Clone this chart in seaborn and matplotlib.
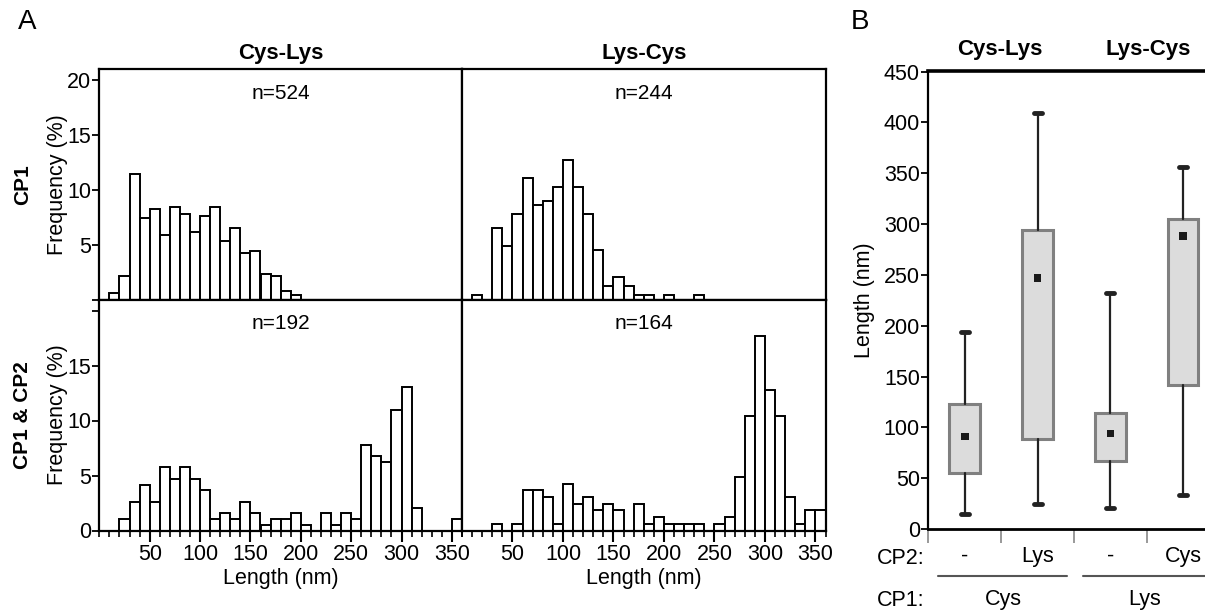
import numpy as np
import pandas as pd
import matplotlib.pyplot as plt
from matplotlib.lines import Line2D
import seaborn as sns

sns.set_style("ticks")
plt.rcParams['font.family'] = ['Liberation Sans', 'DejaVu Sans']
plt.rcParams.update({'text.color': 'black', 'axes.labelcolor': 'black',
                     'xtick.color': 'black', 'ytick.color': 'black'})

# ---- Panel A data: counts per 10 nm bin, 0-10 ... 350-360 nm ----
bin_starts = np.arange(0, 360, 10)

cys_lys_cp1 = [0, 3, 11, 60, 39, 43, 31, 44, 41, 32, 40, 44, 28, 34, 22, 23, 12, 11, 4, 2,
               0, 0, 0, 0, 0, 0, 0, 0, 0, 0, 0, 0, 0, 0, 0, 0]
lys_cys_cp1 = [0, 1, 0, 16, 12, 19, 27, 21, 22, 25, 31, 25, 19, 11, 3, 5, 3, 1, 1, 0,
               1, 0, 0, 1, 0, 0, 0, 0, 0, 0, 0, 0, 0, 0, 0, 0]
cys_lys_cp12 = [0, 0, 2, 5, 8, 5, 11, 9, 11, 9, 7, 2, 3, 2, 5, 3, 1, 2, 2, 3,
                1, 0, 3, 1, 3, 2, 15, 13, 12, 21, 25, 4, 0, 0, 0, 2]
lys_cys_cp12 = [0, 0, 0, 1, 0, 1, 6, 6, 5, 1, 7, 4, 5, 3, 4, 3, 0, 4, 1, 2,
                1, 1, 1, 1, 0, 1, 2, 8, 17, 29, 21, 17, 5, 1, 3, 3]
n_values = [524, 244, 192, 164]

col_titles = ['Cys-Lys', 'Lys-Cys']
row_titles = ['CP1', 'CP1 & CP2']

# ---- Panel B data: box summaries (nm) ----
cp2_labels = ['-', 'Lys', '-', 'Cys']
cp1_labels = ['Cys', 'Lys']
whisker_low = [15, 25, 21, 33]
box_q1 = [55, 89, 67, 142]
box_q3 = [123, 294, 114, 305]
whisker_high = [194, 409, 232, 356]
means = [91, 247, 94, 288]

W, H = 1205, 611
FS = 15.5
fig = plt.figure(figsize=(W / 100, H / 100), dpi=100)


def fx(x):
    return x / W


def fy(y):
    return 1 - y / H


# histogram grid (pixel boxes)
hist_boxes = [
    (99.3, 69, 462, 299.5), (462, 69, 825.5, 299.5),
    (99.3, 299.5, 462, 530.5), (462, 299.5, 825.5, 530.5),
]
hist_counts = [cys_lys_cp1, lys_cys_cp1, cys_lys_cp12, lys_cys_cp12]

for i, (x0, y0, x1, y1) in enumerate(hist_boxes):
    row, col = divmod(i, 2)
    ax = fig.add_axes([fx(x0), fy(y1), (x1 - x0) / W, (y1 - y0) / H])
    df = pd.DataFrame({'length': bin_starts + 5,
                       'pct': np.array(hist_counts[i]) / n_values[i] * 100})
    sns.histplot(data=df, x='length', weights='pct', binwidth=10, binrange=(0, 360), ax=ax,
                 color='white', edgecolor='black', linewidth=1.4, alpha=1)
    ax.set_xlim(0, 360)
    ax.set_ylim(0, 21)
    for s in ax.spines.values():
        s.set_visible(True)
        s.set_linewidth(1.6)
        s.set_color('black')
    ax.text(0.5, 0.895, f'n={n_values[i]}', transform=ax.transAxes,
            ha='center', va='center', fontsize=15)
    ax.set_xlabel('')
    ax.set_ylabel('')

    # x axis
    ax.set_xticks(range(50, 400, 50))
    ax.set_xticks(range(0, 370, 10), minor=True)
    if row == 0:
        ax.tick_params(axis='x', which='both', length=0, labelbottom=False)
        ax.set_title(col_titles[col], fontsize=16, fontweight='bold', pad=7)
    else:
        ax.tick_params(axis='x', which='major', length=8, width=1.5, direction='out',
                       labelsize=FS, pad=2)
        ax.tick_params(axis='x', which='minor', length=4, width=1.2, direction='out')
        ax.set_xlabel('Length (nm)', fontsize=FS, labelpad=2)

    # y axis
    ax.set_yticks([0, 5, 10, 15, 20])
    if col == 0:
        labels = ['', '5', '10', '15', '20'] if row == 0 else ['0', '5', '10', '15', '']
        ax.set_yticklabels(labels)
        ax.tick_params(axis='y', length=5, width=1.3, direction='out', labelsize=FS, pad=1)
        ax.set_ylabel('Frequency (%)', fontsize=FS)
        ax.yaxis.set_label_coords(-0.086, 0.5)
        fig.text(fx(23), (fy(y0) + fy(y1)) / 2, row_titles[row], rotation=90,
                 ha='center', va='center', fontsize=15, fontweight='bold')
    else:
        ax.tick_params(axis='y', length=0, labelleft=False)

# ---- Panel B ----
axb = fig.add_axes([fx(928.3), fy(529), (W - 928.3) / W, (529 - 70.5) / H])
positions = np.arange(len(cp2_labels))
stats = [dict(whislo=lo, q1=a, med=a, q3=b, whishi=hi, fliers=[])
         for lo, a, b, hi in zip(whisker_low, box_q1, box_q3, whisker_high)]
axb.bxp(stats, positions=positions, widths=0.42, capwidths=0.11, patch_artist=True,
        showfliers=False, manage_ticks=False,
        boxprops=dict(facecolor='#dcdcdc', edgecolor='#808080', linewidth=2.2),
        medianprops=dict(linewidth=0),
        whiskerprops=dict(color='#222222', linewidth=1.6),
        capprops=dict(color='#222222', linewidth=3.5))
sns.scatterplot(x=positions, y=means, marker='s', s=30, color='#1a1a1a',
                edgecolor='none', ax=axb, zorder=5)

axb.set_xlim(-0.5, 3.3)
axb.set_ylim(0, 451)
axb.set_yticks(range(0, 451, 50))
axb.tick_params(axis='y', length=5, width=1.3, direction='out', labelsize=FS, pad=1)
axb.set_ylabel('Length (nm)', fontsize=FS)
axb.yaxis.set_label_coords(-0.193, 0.5)
axb.set_xticks(positions)
axb.set_xticklabels(cp2_labels)
axb.tick_params(axis='x', which='major', length=0, labelsize=FS, pad=12)
axb.set_xticks([-0.5, 0.5, 1.5, 2.5], minor=True)
axb.tick_params(axis='x', which='minor', length=10, width=1.2, direction='out', color='#888888')
axb.xaxis.get_minor_ticks()[0].tick1line.set_color('black')
axb.xaxis.get_minor_ticks()[1].tick1line.set_color('#dddddd')
axb.spines['right'].set_visible(False)
axb.spines['top'].set_linewidth(2.6)
axb.spines['left'].set_linewidth(1.6)
axb.spines['bottom'].set_linewidth(2.0)
for s in axb.spines.values():
    s.set_color('black')

for xc, t in zip([1000, 1148], col_titles):
    fig.text(fx(xc), fy(50), t, ha='center', va='center', fontsize=16, fontweight='bold')

fig.text(fx(877), fy(558), 'CP2:', ha='left', va='center', fontsize=FS)
fig.text(fx(877), fy(600), 'CP1:', ha='left', va='center', fontsize=FS)
for (xa, xb) in [(938, 1067), (1083, 1205)]:
    fig.add_artist(Line2D([fx(xa), fx(xb)], [fy(575.7), fy(575.7)], color='#555555', lw=1.5))
for xc, t in zip([1003, 1145], cp1_labels):
    fig.text(fx(xc), fy(600), t, ha='center', va='center', fontsize=FS)

fig.text(fx(27), fy(22), 'A', ha='center', va='center', fontsize=20)
fig.text(fx(860), fy(22), 'B', ha='center', va='center', fontsize=20)

fig.savefig('out.png', dpi=100)
